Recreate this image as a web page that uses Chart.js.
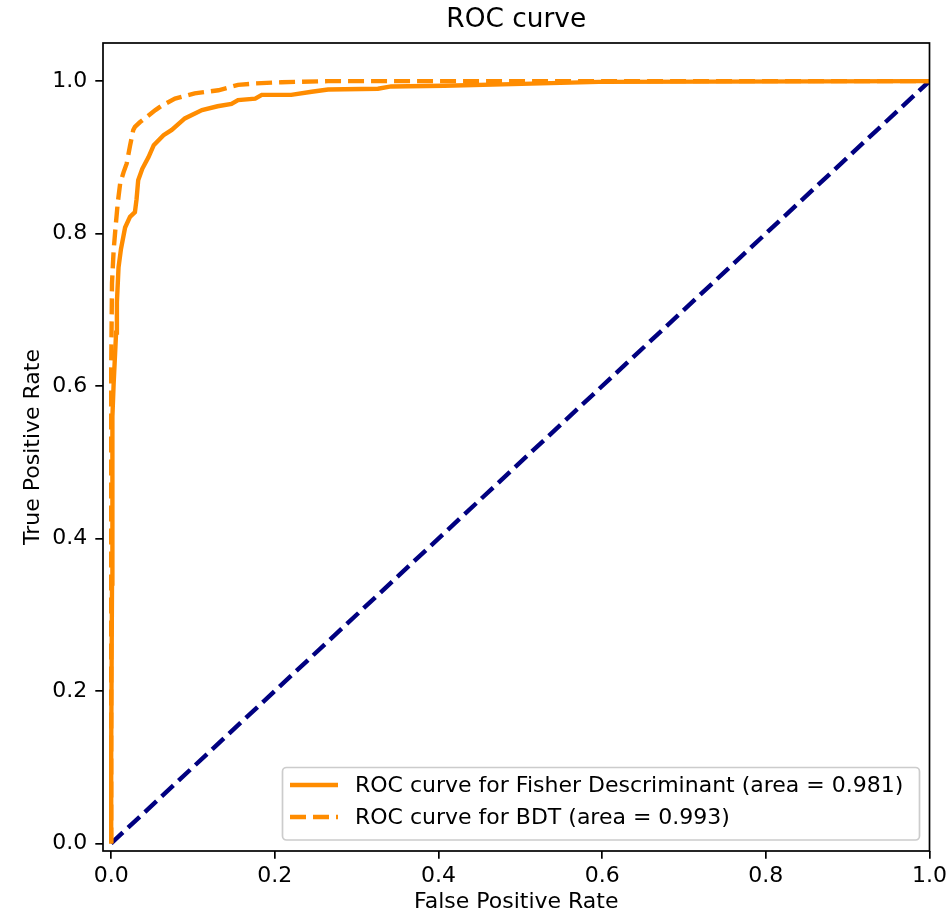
<!DOCTYPE html>
<html>
<head>
<meta charset="utf-8">
<script src="https://cdn.jsdelivr.net/npm/chart.js@4.4.0/dist/chart.umd.min.js"></script>
<style>
  html, body { margin: 0; padding: 0; background: #ffffff; }
  #wrap { width: 951px; height: 917px; }
</style>
</head>
<body>
<div id="wrap"><canvas id="myChart" width="951" height="917"></canvas></div>
<script>
// values
const fprFisher = [0, 0, 0.001, 0.001, 0.002, 0.003, 0.006, 0.007, 0.009, 0.012, 0.017, 0.023, 0.029, 0.031, 0.033, 0.038, 0.0455, 0.052, 0.064, 0.074, 0.090, 0.111, 0.130, 0.147, 0.155, 0.176, 0.184, 0.220, 0.245, 0.265, 0.326, 0.342, 0.407, 0.490, 0.596, 1.0];
const tprFisher = [0, 0.122, 0.341, 0.516, 0.560, 0.603, 0.670, 0.710, 0.756, 0.780, 0.808, 0.822, 0.828, 0.845, 0.870, 0.885, 0.900, 0.916, 0.929, 0.936, 0.951, 0.962, 0.967, 0.970, 0.975, 0.977, 0.982, 0.982, 0.986, 0.989, 0.990, 0.993, 0.994, 0.996, 0.999, 1.0];
const fprBDT = [0, 0, 0.001, 0.003, 0.005, 0.008, 0.011, 0.015, 0.019, 0.023, 0.027, 0.029, 0.035, 0.041, 0.054, 0.062, 0.078, 0.102, 0.131, 0.155, 0.176, 0.208, 0.265, 1.0];
const tprBDT = [0, 0.620, 0.735, 0.778, 0.804, 0.840, 0.866, 0.880, 0.892, 0.915, 0.936, 0.940, 0.946, 0.951, 0.962, 0.968, 0.977, 0.984, 0.988, 0.995, 0.997, 0.9985, 1.0, 1.0];
const fprDiag = [0, 1];
const tprDiag = [0, 1];
const tickValues = [0, 0.2, 0.4, 0.6, 0.8, 1.0];
const labels = ["ROC curve for Fisher Descriminant (area = 0.981)", "ROC curve for BDT (area = 0.993)"];

const FONT = "'DejaVu Sans', sans-serif";
const orange = '#ff8c00';
const navy = '#000080';
const dash = [16, 7];

function toPoints(xs, ys) {
    return xs.map((x, i) => ({x: x, y: ys[i]}));
}

// title, axis labels, frame and legend
const decor = {
    id: 'decor',
    afterDraw: (chart) => {
        const ctx = chart.ctx;
        const a = chart.chartArea;
        ctx.save();
        ctx.strokeStyle = '#000000';
        ctx.lineWidth = 1.7;
        ctx.strokeRect(a.left, a.top, a.right - a.left, a.bottom - a.top);

        ctx.fillStyle = '#000000';
        ctx.textAlign = 'center';
        ctx.textBaseline = 'middle';
        ctx.font = '26.4px ' + FONT;
        ctx.fillText('ROC curve', (a.left + a.right) / 2, 20);
        ctx.font = '22px ' + FONT;
        ctx.fillText('False Positive Rate', (a.left + a.right) / 2, 902);
        ctx.save();
        ctx.translate(33, (a.top + a.bottom) / 2);
        ctx.rotate(-Math.PI / 2);
        ctx.fillText('True Positive Rate', 0, 0);
        ctx.restore();

        // legend box
        const bx = 282.5, by = 767.5, bw = 637, bh = 72.5, r = 4;
        ctx.beginPath();
        ctx.moveTo(bx + r, by);
        ctx.arcTo(bx + bw, by, bx + bw, by + bh, r);
        ctx.arcTo(bx + bw, by + bh, bx, by + bh, r);
        ctx.arcTo(bx, by + bh, bx, by, r);
        ctx.arcTo(bx, by, bx + bw, by, r);
        ctx.closePath();
        ctx.fillStyle = 'rgba(255,255,255,0.8)';
        ctx.fill();
        ctx.strokeStyle = '#cccccc';
        ctx.lineWidth = 1.7;
        ctx.stroke();

        const rows = [785, 817];
        chart.data.datasets.slice(0, 2).forEach((ds, i) => {
            ctx.beginPath();
            ctx.strokeStyle = ds.borderColor;
            ctx.lineWidth = ds.borderWidth;
            ctx.setLineDash(ds.borderDash || []);
            ctx.moveTo(290, rows[i]);
            ctx.lineTo(338, rows[i]);
            ctx.stroke();
            ctx.setLineDash([]);
            ctx.fillStyle = '#000000';
            ctx.textAlign = 'left';
            ctx.font = '22px ' + FONT;
            ctx.fillText(ds.label, 355, rows[i] + 1);
        });
        ctx.restore();
    }
};

const ctx = document.getElementById('myChart').getContext('2d');
new Chart(ctx, {
    type: 'line',
    data: {
        datasets: [{
            label: labels[0],
            data: toPoints(fprFisher, tprFisher),
            borderColor: orange,
            borderWidth: 4.4,
            pointRadius: 0,
            tension: 0
        }, {
            label: labels[1],
            data: toPoints(fprBDT, tprBDT),
            borderColor: orange,
            borderWidth: 4.4,
            borderDash: dash,
            pointRadius: 0,
            tension: 0
        }, {
            label: 'diag',
            data: toPoints(fprDiag, tprDiag),
            borderColor: navy,
            borderWidth: 4.4,
            borderDash: dash,
            pointRadius: 0,
            tension: 0
        }]
    },
    options: {
        responsive: false,
        animation: false,
        layout: { padding: { top: 43, right: 20, left: 0, bottom: 0 } },
        scales: {
            x: {
                type: 'linear',
                min: -0.01,
                max: 1.0,
                afterBuildTicks: (scale) => { scale.ticks = tickValues.map(v => ({value: v})); },
                afterFit: (scale) => { scale.height = 66; },
                grid: { drawOnChartArea: false, drawTicks: true, tickLength: 7.7, color: '#000000', lineWidth: 1.7 },
                border: { display: false },
                ticks: {
                    color: '#000000',
                    font: { family: FONT, size: 22 },
                    padding: 4,
                    maxRotation: 0,
                    callback: (v) => Number(v).toFixed(1)
                }
            },
            y: {
                type: 'linear',
                min: -0.01,
                max: 1.05,
                afterBuildTicks: (scale) => { scale.ticks = tickValues.map(v => ({value: v})); },
                afterFit: (scale) => { scale.width = 103; },
                grid: { drawOnChartArea: false, drawTicks: true, tickLength: 7.7, color: '#000000', lineWidth: 1.7 },
                border: { display: false },
                ticks: {
                    color: '#000000',
                    font: { family: FONT, size: 22 },
                    padding: 8,
                    callback: (v) => Number(v).toFixed(1)
                }
            }
        },
        plugins: {
            legend: { display: false },
            title: { display: false },
            tooltip: { enabled: false }
        }
    },
    plugins: [decor]
});
</script>
</body>
</html>
